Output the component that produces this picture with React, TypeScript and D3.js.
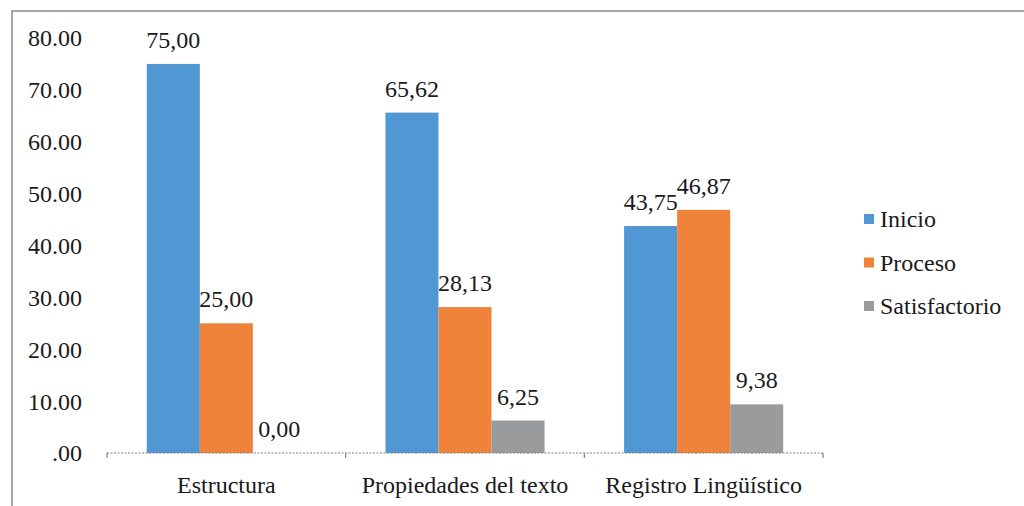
import React from "react";
import * as d3 from "d3";

const categories = ["Estructura", "Propiedades del texto", "Registro Lingüístico"];
const seriesNames = ["Inicio", "Proceso", "Satisfactorio"];
const inicio = [75.0, 65.62, 43.75];
const proceso = [25.0, 28.13, 46.87];
const satisfactorio = [0.0, 6.25, 9.38];
const yTicks = [0, 10, 20, 30, 40, 50, 60, 70, 80];
const colors = ["#5097D3", "#F0833A", "#999B9C"];

const W = 1024;
const H = 506;
const FONT = '"Liberation Serif", "Times New Roman", "DejaVu Serif", serif';
const ts: React.CSSProperties = { fontFamily: FONT };
const FS = 24;

export default function App() {
  const values = [inicio, proceso, satisfactorio];
  const x0 = d3.scaleBand<string>().domain(categories).range([107, 823]).padding(0);
  const inner = x0.bandwidth() * 0.1667;
  const x1 = d3
    .scaleBand<string>()
    .domain(seriesNames)
    .range([inner, x0.bandwidth() - inner])
    .padding(0);
  const y = d3.scaleLinear().domain([0, 80]).range([453, 38]);
  const fmtTick = (v: number) => (v === 0 ? ".00" : d3.format(".2f")(v));
  const fmtLabel = (v: number) => d3.format(".2f")(v).replace(".", ",");
  const boundaries = [...categories.map((c) => x0(c)!), 823];

  return (
    <svg
      width={W}
      height={H}
      style={{ position: "absolute", left: 0, top: 0, display: "block", fontFamily: FONT }}
    >
      <rect x={0} y={0} width={W} height={H} fill="#fff" />
      <rect x={12} y={11} width={W + 20} height={H + 20} fill="none" stroke="#8a8a8a" strokeWidth={1.5} />

      {yTicks.map((t) => (
        <text key={t} x={82} y={y(t)} dy="0.35em" textAnchor="end" fontSize={FS} fill="#1a1a1a" style={ts}>
          {fmtTick(t)}
        </text>
      ))}

      {categories.map((c, ci) =>
        seriesNames.map((s, si) => {
          const v = values[si][ci];
          const bx = x0(c)! + x1(s)!;
          return (
            <g key={c + s}>
              <rect x={bx} y={y(v)} width={x1.bandwidth()} height={y(0) - y(v)} fill={colors[si]} />
              <text
                x={bx + x1.bandwidth() / 2}
                y={y(v) - 16}
                textAnchor="middle"
                fontSize={FS}
                fill="#1a1a1a"
                style={ts}
              >
                {fmtLabel(v)}
              </text>
            </g>
          );
        })
      )}

      <line x1={107} x2={823} y1={y(0)} y2={y(0)} stroke="#7f7f7f" strokeWidth={1.2} strokeDasharray="2,1.5" />
      {boundaries.map((b, i) => (
        <line key={i} x1={b} x2={b} y1={y(0)} y2={y(0) + 5} stroke="#7f7f7f" strokeWidth={1.2} />
      ))}

      {categories.map((c) => (
        <text key={c} x={x0(c)! + x0.bandwidth() / 2} y={493} textAnchor="middle" fontSize={FS} fill="#1a1a1a" style={ts}>
          {c}
        </text>
      ))}

      {seriesNames.map((s, i) => (
        <g key={s} transform={`translate(864, ${219 + i * 43.5})`}>
          <rect x={0} y={-5} width={10} height={10} fill={colors[i]} />
          <text x={16} y={0} dy="0.35em" fontSize={FS} fill="#1a1a1a" style={ts}>
            {s}
          </text>
        </g>
      ))}
    </svg>
  );
}
